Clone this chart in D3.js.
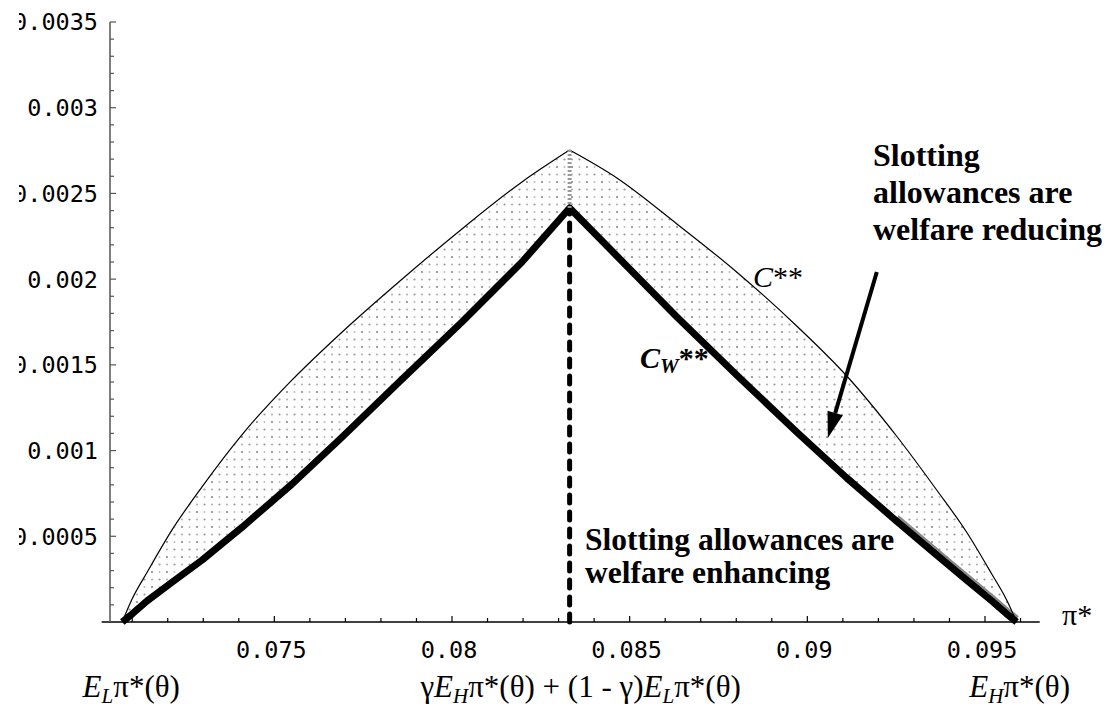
<!DOCTYPE html>
<html>
<head>
<meta charset="utf-8">
<title>Slotting allowances</title>
<script src="https://cdn.jsdelivr.net/npm/d3@7"></script>
<style>
body { margin:0; background:#fff; }
.tick-label { font-family:"DejaVu Sans Mono", monospace; font-size:23.5px; fill:#000; }
.serif { font-family:"Liberation Serif", "Times New Roman", serif; fill:#000; }
</style>
</head>
<body>
<div id="chart"></div>
<script>
// pi* grid and the two cost curves
var piStar = [0.07072, 0.07100, 0.07142, 0.07213, 0.07297, 0.07410, 0.07550, 0.07691, 0.07860, 0.08028, 0.08197, 0.08331,
              0.08464, 0.08633, 0.08801, 0.08970, 0.09111, 0.09251, 0.09364, 0.09448, 0.09519, 0.09561, 0.09589];
var cStar = [0, 0.000135, 0.00029, 0.00054, 0.00079, 0.001095, 0.001412, 0.001692, 0.002001, 0.002293, 0.002567, 0.002753,
             0.002590, 0.002322, 0.002042, 0.001727, 0.001435, 0.001085, 0.00077, 0.000525, 0.00028, 0.000128, 0];
var cW = [0, 0.000047, 0.000123, 0.000233, 0.000362, 0.000554, 0.000805, 0.001079, 0.001418, 0.00175, 0.0021, 0.002415,
          0.002135, 0.001779, 0.001441, 0.001108, 0.00084, 0.000589, 0.000391, 0.000245, 0.000123, 0.000047, 0];

var xMajor = [0.075, 0.08, 0.085, 0.09, 0.095];
var xMajorLabels = ["0.075", "0.08", "0.085", "0.09", "0.095"];
var yMajor = [0.0005, 0.001, 0.0015, 0.002, 0.0025, 0.003, 0.0035];
var yMajorLabels = ["0.0005", "0.001", "0.0015", "0.002", "0.0025", "0.003", "0.0035"];
var xMinor = d3.range(71, 97).map(function(d){ return d / 1000; });
var yMinor = d3.range(1, 36).map(function(d){ return d / 10000; });
var xAxisEnds = [0.07014, 0.09654];

var peakPi = 0.08331;
var arrowFrom = [0.091955, 0.0020417];
var arrowTo = [0.090577, 0.0010733];

var W = 1114, H = 708;
var svg = d3.select("#chart").append("svg").attr("width", W).attr("height", H);

var x = d3.scaleLinear().domain([0.08, 0.095]).range([452, 985]);
var y = d3.scaleLinear().domain([0, 0.0035]).range([622, 22]);

var defs = svg.append("defs");
var pat = defs.append("pattern").attr("id", "stipple").attr("patternUnits", "userSpaceOnUse")
	.attr("width", 15).attr("height", 15);
pat.append("circle").attr("cx", 2).attr("cy", 2).attr("r", 1.1).attr("fill", "#888");
pat.append("circle").attr("cx", 9.5).attr("cy", 2).attr("r", 1).attr("fill", "#bbb");
pat.append("circle").attr("cx", 2).attr("cy", 9.5).attr("r", 1).attr("fill", "#aaa");
pat.append("circle").attr("cx", 9.5).attr("cy", 9.5).attr("r", 1.1).attr("fill", "#999");
defs.append("clipPath").attr("id", "leftclip").append("rect")
	.attr("x", 19).attr("y", 0).attr("width", 200).attr("height", H);

var pts = piStar.map(function(p, i){ return {p:p, c:cStar[i], w:cW[i]}; });
var peakIdx = cStar.indexOf(d3.max(cStar));
var halves = [pts.slice(0, peakIdx + 1), pts.slice(peakIdx)];

// shaded region between the curves
var area = d3.area().curve(d3.curveMonotoneX).x(function(d){ return x(d.p); })
	.y0(function(d){ return y(d.w); }).y1(function(d){ return y(d.c); });
svg.selectAll(".band").data(halves).enter().append("path")
	.attr("d", area).attr("fill", "url(#stipple)");

// darker band along the right end of C_W
svg.append("path").datum(pts.slice(17))
	.attr("d", d3.line().x(function(d){ return x(d.p); }).y(function(d){ return y(d.w); }))
	.attr("transform", "translate(0,-3)")
	.attr("fill", "none").attr("stroke", "#888").attr("stroke-width", 7);

// axes
svg.append("line").attr("x1", x(xAxisEnds[0])).attr("x2", x(xAxisEnds[1]))
	.attr("y1", y(0)).attr("y2", y(0)).attr("stroke", "#000").attr("stroke-width", 1.3);
svg.append("line").attr("x1", 110).attr("x2", 110)
	.attr("y1", y(0)).attr("y2", y(0.0035)).attr("stroke", "#555").attr("stroke-width", 1.5);

svg.selectAll(".xmin").data(xMinor).enter().append("line")
	.attr("x1", function(d){ return x(d); }).attr("x2", function(d){ return x(d); })
	.attr("y1", y(0)).attr("y2", function(d){ return y(0) - (xMajor.some(function(m){ return Math.abs(m - d) < 1e-9; }) ? 6 : 4); })
	.attr("stroke", "#000").attr("stroke-width", 1.2);
svg.selectAll(".ymin").data(yMinor).enter().append("line")
	.attr("x1", 110).attr("x2", function(d){ return 110 + (yMajor.some(function(m){ return Math.abs(m - d) < 1e-9; }) ? 6 : 4); })
	.attr("y1", function(d){ return y(d); }).attr("y2", function(d){ return y(d); })
	.attr("stroke", "#555").attr("stroke-width", 1.2);

svg.selectAll(".xlab").data(xMajor).enter().append("text").attr("class", "tick-label")
	.attr("x", function(d){ return x(d) - 3; }).attr("y", 658).attr("text-anchor", "middle")
	.text(function(d, i){ return xMajorLabels[i]; });
svg.append("g").attr("clip-path", "url(#leftclip)")
	.selectAll("text").data(yMajor).enter().append("text").attr("class", "tick-label")
	.attr("x", 98).attr("y", function(d){ return y(d); }).attr("dy", "0.36em").attr("text-anchor", "end")
	.text(function(d, i){ return yMajorLabels[i]; });

// curves
var cLine = d3.line().curve(d3.curveMonotoneX).x(function(d){ return x(d.p); }).y(function(d){ return y(d.c); });
svg.selectAll(".cstar").data(halves).enter().append("path")
	.attr("d", cLine).attr("fill", "none").attr("stroke", "#000").attr("stroke-width", 1.2);
svg.append("path").datum(pts)
	.attr("d", d3.line().x(function(d){ return x(d.p); }).y(function(d){ return y(d.w); }))
	.attr("fill", "none").attr("stroke", "#000").attr("stroke-width", 7).attr("stroke-linejoin", "round");

// vertical dashed line at the peak
svg.append("line").attr("x1", x(peakPi)).attr("x2", x(peakPi))
	.attr("y1", y(0)).attr("y2", y(d3.max(cW)))
	.attr("stroke", "#000").attr("stroke-width", 5).attr("stroke-dasharray", "8 9").attr("stroke-linecap", "round");
svg.append("line").attr("x1", x(peakPi)).attr("x2", x(peakPi))
	.attr("y1", y(d3.max(cW))).attr("y2", y(d3.max(cStar)))
	.attr("stroke", "#999").attr("stroke-width", 4).attr("stroke-dasharray", "2 2");

// arrow
var ax1 = x(arrowFrom[0]), ay1 = y(arrowFrom[1]), ax2 = x(arrowTo[0]), ay2 = y(arrowTo[1]);
var ang = Math.atan2(ay2 - ay1, ax2 - ax1);
var hl = 26, hw = 8;
var bx = ax2 - hl * Math.cos(ang), by = ay2 - hl * Math.sin(ang);
svg.append("line").attr("x1", ax1).attr("y1", ay1).attr("x2", bx).attr("y2", by)
	.attr("stroke", "#000").attr("stroke-width", 4);
svg.append("path").attr("fill", "#000")
	.attr("d", "M" + ax2 + "," + ay2 +
		"L" + (bx + hw * Math.sin(ang)) + "," + (by - hw * Math.cos(ang)) +
		"L" + (bx - hw * Math.sin(ang)) + "," + (by + hw * Math.cos(ang)) + "Z");

// text annotations
function bold(lines, x0, y0, dy, fs) {
	var t = svg.append("text").attr("class", "serif").attr("font-weight", "bold").attr("font-size", fs);
	lines.forEach(function(s, i){ t.append("tspan").attr("x", x0).attr("y", y0 + i * dy).text(s); });
}
bold(["Slotting", "allowances are", "welfare reducing"], 873, 166, 37, 32);
bold(["Slotting allowances are", "welfare enhancing"], 585, 550, 33, 31.5);

var t1 = svg.append("text").attr("class", "serif").attr("font-size", 30).attr("x", 753).attr("y", 287);
t1.append("tspan").attr("font-style", "italic").text("C");
t1.append("tspan").text("**");

var t2 = svg.append("text").attr("class", "serif").attr("font-size", 30).attr("font-weight", "bold").attr("x", 640).attr("y", 368);
t2.append("tspan").attr("font-style", "italic").text("C");
t2.append("tspan").attr("font-style", "italic").attr("font-size", 21).attr("dy", 5).text("W");
t2.append("tspan").attr("dy", -5).text("**");

svg.append("text").attr("class", "serif").attr("font-size", 30).attr("x", 1062).attr("y", 625).text("π*");

function piLabel(parts, cx) {
	var t = svg.append("text").attr("class", "serif").attr("font-size", 31).attr("x", cx).attr("y", 697).attr("text-anchor", "middle");
	parts.forEach(function(p){
		var s = t.append("tspan").text(p[0]);
		if (p[1] === "i") s.attr("font-style", "italic");
		if (p[1] === "s") s.attr("font-style", "italic").attr("font-size", 21).attr("dy", 6);
		if (p[1] === "b") s.attr("dy", -6);
	});
}
piLabel([["E", "i"], ["L", "s"], ["π*(θ)", "b"]], x(piStar[0]) + 9);
piLabel([["γ", ""], ["E", "i"], ["H", "s"], ["π*(θ) + (1 - γ)", "b"], ["E", "i"], ["L", "s"], ["π*(θ)", "b"]], x(peakPi) + 11);
piLabel([["E", "i"], ["H", "s"], ["π*(θ)", "b"]], x(piStar[piStar.length - 1]) + 3);
</script>
</body>
</html>
